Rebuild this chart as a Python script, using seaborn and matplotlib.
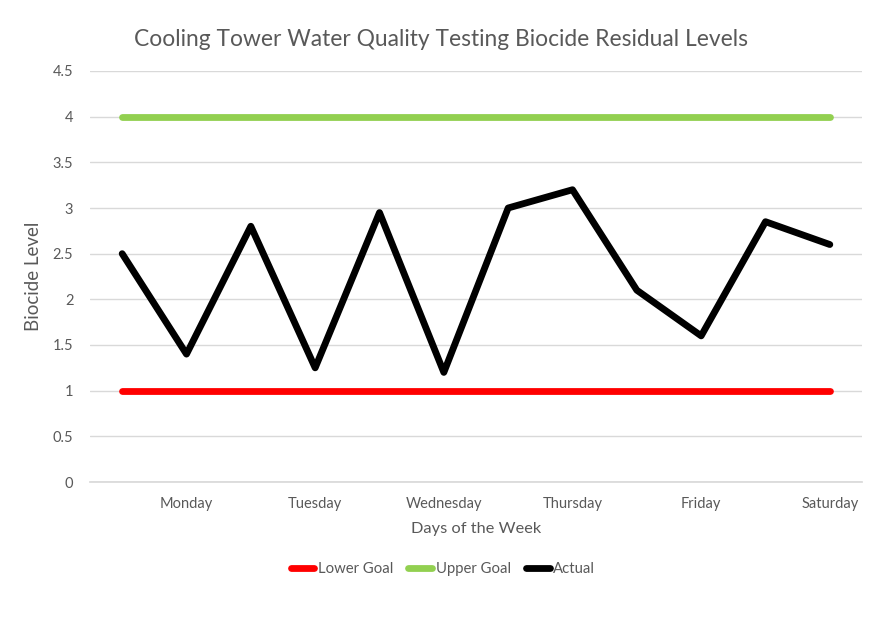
import numpy as np
import pandas as pd
import matplotlib
matplotlib.use("Agg")
import matplotlib.pyplot as plt
import seaborn as sns
from matplotlib.lines import Line2D

# ---- data ----
categories = ["", "Monday", "", "Tuesday", "", "Wednesday", "", "Thursday", "", "Friday", "", "Saturday"]
actual = [2.5, 1.4, 2.8, 1.25, 2.95, 1.2, 3.0, 3.2, 2.1, 1.6, 2.85, 2.6]
lower_goal = [1, 1, 1, 1, 1, 1, 1, 1, 1, 1, 1, 1]
upper_goal = [4, 4, 4, 4, 4, 4, 4, 4, 4, 4, 4, 4]
series_names = ["Lower Goal", "Upper Goal", "Actual"]
y_ticks = [0, 0.5, 1, 1.5, 2, 2.5, 3, 3.5, 4, 4.5]

colors = {"Lower Goal": "#FF0000", "Upper Goal": "#92D050", "Actual": "#000000"}
text_color = "#595959"

pos = np.arange(len(categories))
df = pd.concat([
    pd.DataFrame({"pos": pos, "value": lower_goal, "series": "Lower Goal"}),
    pd.DataFrame({"pos": pos, "value": upper_goal, "series": "Upper Goal"}),
    pd.DataFrame({"pos": pos, "value": actual, "series": "Actual"}),
])

sns.set_theme(style="white")
plt.rcParams["font.family"] = ["Lato", "DejaVu Sans"]

fig = plt.figure(figsize=(8.87, 6.2), dpi=100)
ax = fig.add_axes([90 / 887, 1 - 482 / 620, (862 - 90) / 887, (482 - 71) / 620])

sns.lineplot(data=df, x="pos", y="value", hue="series", hue_order=series_names,
             palette=colors, linewidth=4.9, ax=ax, legend=False, sort=False)
for ln in ax.get_lines():
    ln.set_solid_capstyle("round")
    ln.set_solid_joinstyle("round")

ax.set_xlim(-0.5, len(categories) - 0.5)
ax.set_ylim(0, 4.5)
ax.set_yticks(y_ticks)
ax.set_yticklabels([f"{t:g}" for t in y_ticks])
ax.set_xticks(pos)
ax.set_xticklabels(categories)
ax.yaxis.grid(True, color="#D9D9D9", linewidth=1)
ax.set_axisbelow(True)
for s in ["top", "right", "left"]:
    ax.spines[s].set_visible(False)
ax.spines["bottom"].set_color("#D9D9D9")
ax.tick_params(axis="both", length=0, colors=text_color, labelsize=10.5)
ax.tick_params(axis="y", pad=12)
ax.tick_params(axis="x", pad=10.5)

ax.set_xlabel("Days of the Week", color=text_color, fontsize=11.8, labelpad=8)
ax.set_ylabel("Biocide Level", color=text_color, fontsize=13.5, labelpad=8)

fig.text(441 / 887, 1 - 40 / 620, "Cooling Tower Water Quality Testing Biocide Residual Levels",
         ha="center", va="center", fontsize=16.4, color=text_color)

handles = [Line2D([0], [0], color=colors[n], linewidth=4.9, solid_capstyle="round") for n in series_names]
fig.legend(handles, series_names, loc="center", bbox_to_anchor=(443 / 887, 1 - 569 / 620),
           ncol=3, frameon=False, handlelength=1.6, handletextpad=0.25, columnspacing=1.0,
           fontsize=10.7, labelcolor=text_color)

fig.savefig("out.png", dpi=100, facecolor="white")
